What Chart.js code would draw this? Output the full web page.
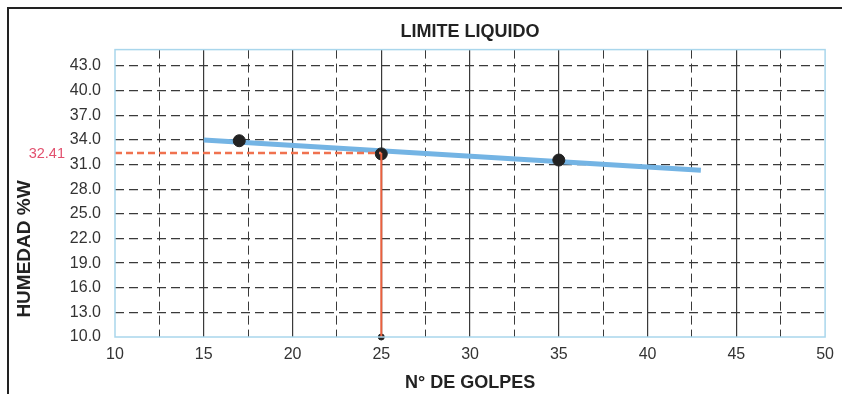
<!DOCTYPE html>
<html>
<head>
<meta charset="utf-8">
<script src="https://cdn.jsdelivr.net/npm/chart.js@4/dist/chart.umd.min.js"></script>
<style>
  html, body { margin: 0; padding: 0; background: #fff; overflow: hidden; }
  #frame { position: absolute; left: 7px; top: 7px; width: 900px; height: 500px; border: 2px solid #222; }
  #wrap { position: absolute; left: 0; top: 0; width: 842px; height: 394px; }
</style>
</head>
<body>
<div id="frame"></div>
<div id="wrap"><canvas id="chart" width="842" height="394"></canvas></div>
<script>
// ensayo: numero de golpes vs humedad
const golpes = [17, 25, 35];
const humedad = [33.9, 32.3, 31.55];

// recta de tendencia (extremos)
const trendX = [15, 43];
const trendY = [34.0, 30.3];

const limiteLiquido = 32.41;
const golpesRef = 25;

const xMin = 10, xMax = 50, xStep = 5;
const yMin = 10, yMax = 45;
const yTicks = [10, 13, 16, 19, 22, 25, 28, 31, 34, 37, 40, 43];
const minorX = [12.5, 17.5, 22.5, 27.5, 32.5, 37.5, 42.5, 47.5];

const font = "'Liberation Sans', Arial, sans-serif";
const gridDark = '#3a3a3a';

const toPts = (xs, ys) => xs.map((x, i) => ({x: x, y: ys[i]}));

// marco celeste del area de trazado + textos laterales
const extras = {
  id: 'extras',
  afterDraw(chart) {
    const {ctx, chartArea: a, scales} = chart;
    ctx.save();
    ctx.strokeStyle = '#a9d6ec';
    ctx.lineWidth = 1.5;
    ctx.strokeRect(a.left, a.top, a.right - a.left, a.bottom - a.top);

    ctx.fillStyle = '#e2506e';
    ctx.font = '14.5px ' + font;
    ctx.textAlign = 'right';
    ctx.textBaseline = 'middle';
    ctx.fillText(limiteLiquido.toFixed(2), 65, scales.y.getPixelForValue(limiteLiquido) + 1);

    ctx.translate(25, 249);
    ctx.rotate(-Math.PI / 2);
    ctx.fillStyle = '#222';
    ctx.font = 'bold 19px ' + font;
    ctx.textAlign = 'center';
    ctx.fillText('HUMEDAD %W', 0, 0);
    ctx.restore();
  }
};

new Chart(document.getElementById('chart').getContext('2d'), {
  type: 'scatter',
  data: {
    datasets: [
      {
        data: toPts([xMin, golpesRef], [limiteLiquido, limiteLiquido]),
        showLine: true, borderColor: '#f0724f', borderWidth: 2.5, borderDash: [7, 4],
        pointRadius: 0
      },
      {
        data: toPts([golpesRef, golpesRef], [limiteLiquido, yMin]),
        showLine: true, borderColor: '#e8603e', borderWidth: 2, pointRadius: 0
      },
      {
        data: toPts(golpes, humedad),
        pointRadius: 6, backgroundColor: '#222', borderColor: '#222'
      },
      {
        data: toPts(trendX, trendY),
        showLine: true, borderColor: '#74b4e4', borderWidth: 5, pointRadius: 0
      },
      {
        data: toPts([golpesRef], [yMin]),
        pointRadius: 3, backgroundColor: '#222', borderColor: '#222', clip: false
      }
    ]
  },
  options: {
    responsive: false,
    animation: false,
    layout: { padding: { left: 0, right: 13, top: 0, bottom: 0 } },
    plugins: {
      legend: { display: false },
      tooltip: { enabled: false },
      title: {
        display: true, text: 'LIMITE LIQUIDO', fullSize: false, color: '#222',
        font: { family: font, size: 18, weight: 'bold' },
        padding: { top: 21, bottom: 7 }
      }
    },
    scales: {
      x: {
        type: 'linear', min: xMin, max: xMax, position: 'bottom',
        afterFit: s => { s.height = 57; },
        ticks: { stepSize: xStep, padding: 8, color: '#333', font: { family: font, size: 16 } },
        grid: {
          drawTicks: false, lineWidth: 1.2,
          color: c => (c.tick && (c.tick.value === xMin || c.tick.value === xMax)) ? 'transparent' : gridDark
        },
        border: { display: false },
        title: {
          display: true, text: 'N° DE GOLPES', color: '#222',
          font: { family: font, size: 18, weight: 'bold' }, padding: { top: 0, bottom: 0 }
        }
      },
      x2: {
        type: 'linear', min: xMin, max: xMax, position: 'bottom',
        afterBuildTicks: s => { s.ticks = minorX.map(v => ({value: v})); },
        afterFit: s => { s.height = 0; },
        ticks: { display: false },
        grid: { drawTicks: false, color: gridDark, lineWidth: 1 },
        border: { display: false, dash: [9, 5] }
      },
      y: {
        type: 'linear', min: yMin, max: yMax,
        afterBuildTicks: s => { s.ticks = yTicks.map(v => ({value: v})); },
        afterFit: s => { s.width = 115; },
        ticks: {
          padding: 14, color: '#333', font: { family: font, size: 16 },
          callback: v => v.toFixed(1)
        },
        grid: {
          drawTicks: false, lineWidth: 1.2,
          color: c => (c.tick && c.tick.value === yMin) ? 'transparent' : gridDark
        },
        border: { display: false, dash: [9, 5] }
      }
    }
  },
  plugins: [extras]
});
</script>
</body>
</html>
